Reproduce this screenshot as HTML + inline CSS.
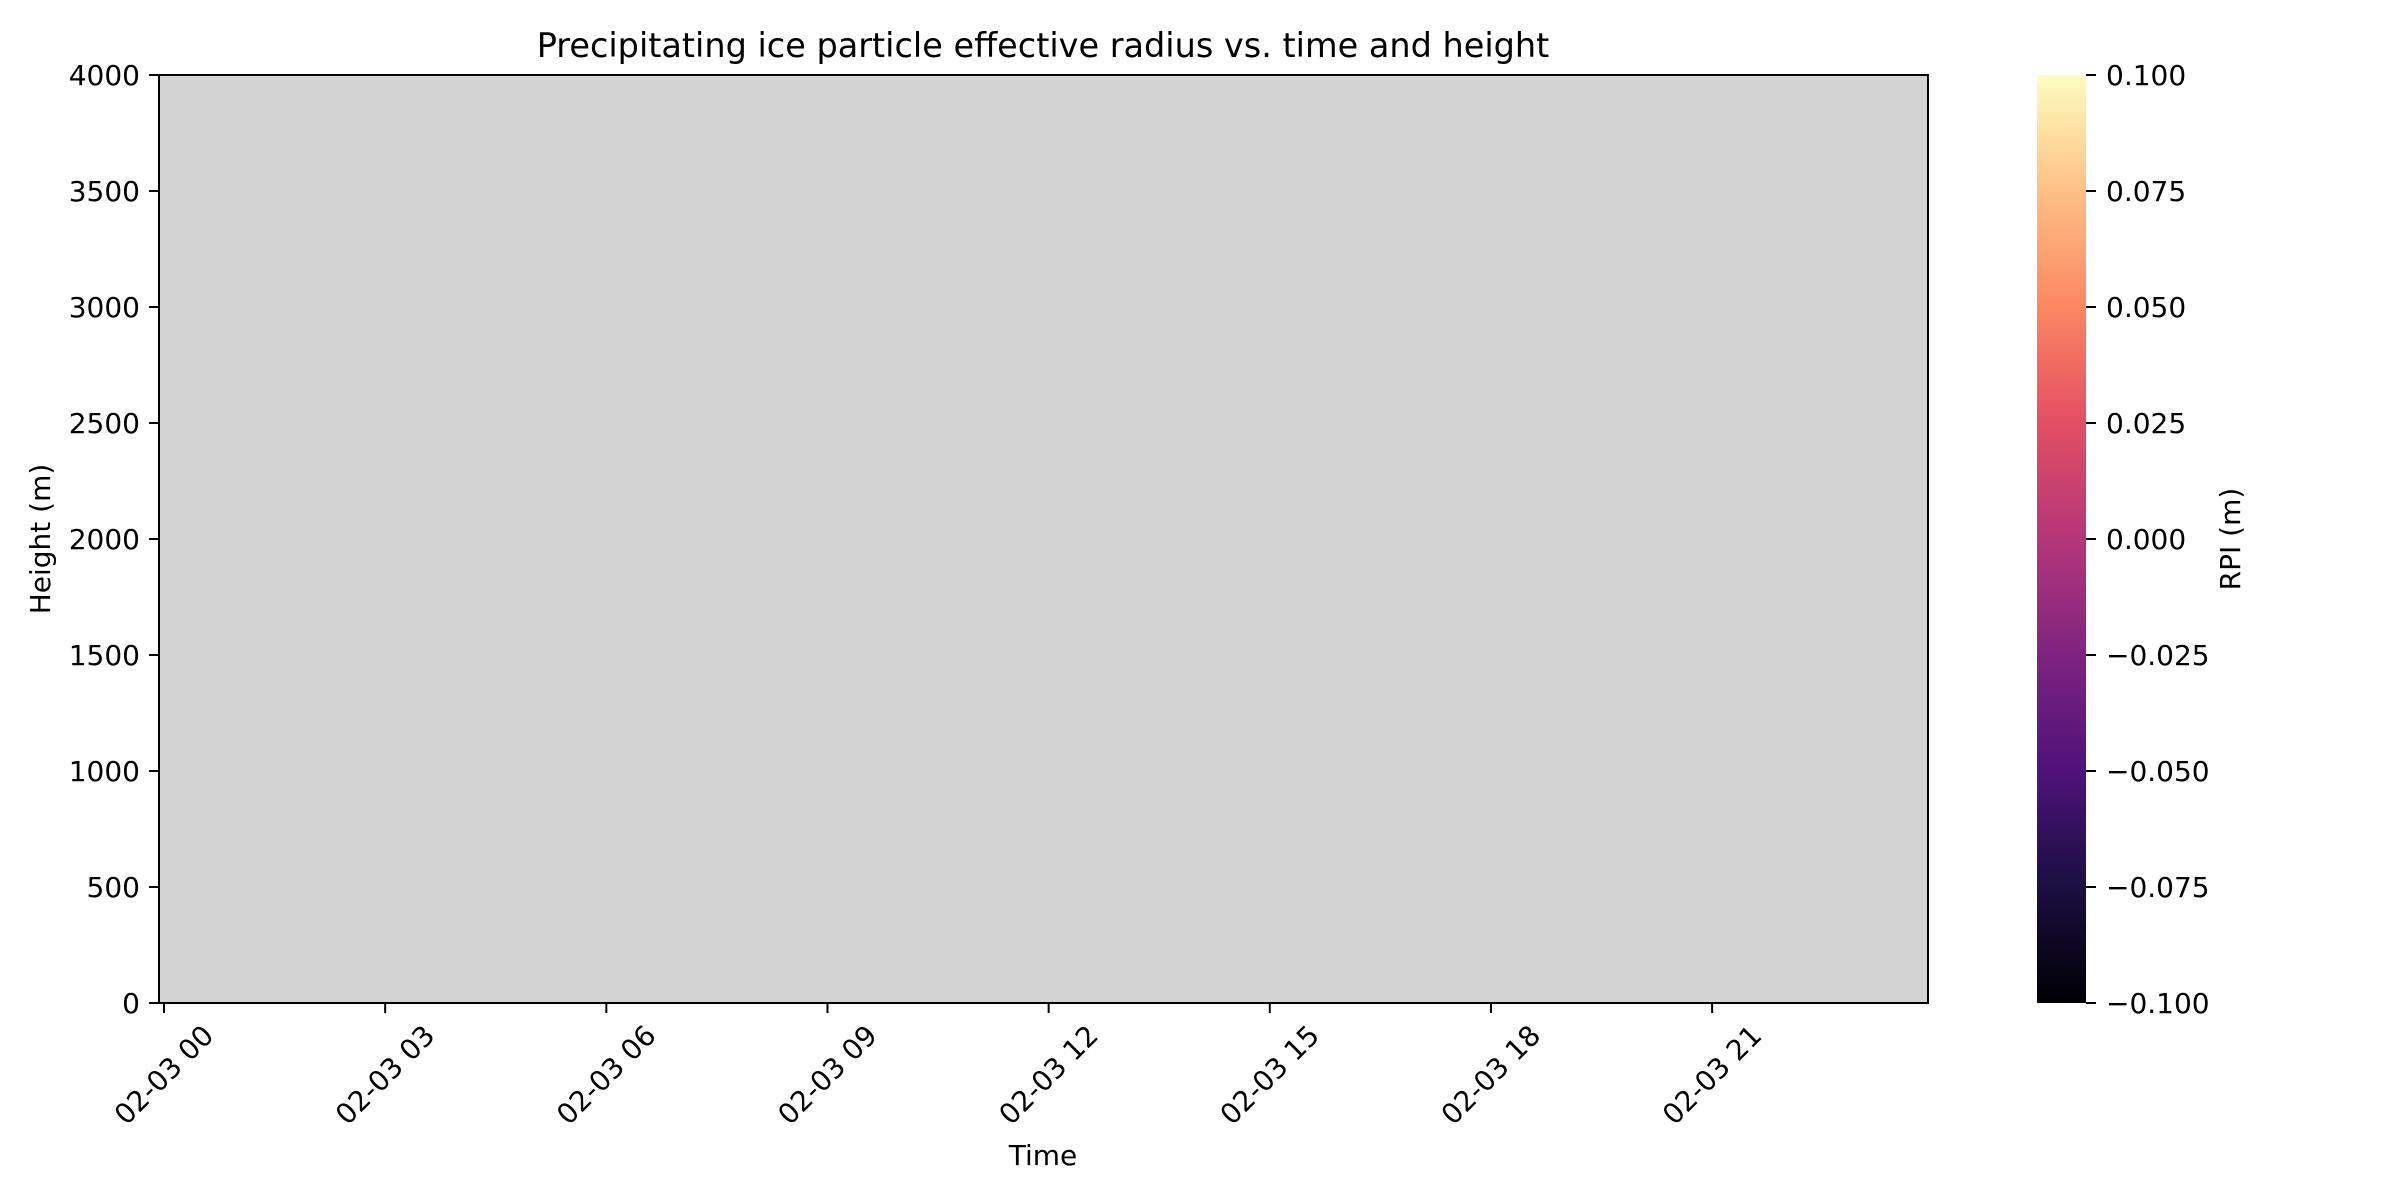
<!DOCTYPE html>
<html><head><meta charset="utf-8"><style>body{margin:0;background:#fff}svg{display:block}text{font-family:"DejaVu Sans","Liberation Sans",sans-serif;fill:#000}</style></head>
<body>
<svg id="c" width="2400" height="1200" viewBox="0 0 2400 1200">
<defs><linearGradient id="magma" x1="0" y1="1" x2="0" y2="0">
<stop offset="0" stop-color="#000004"/><stop offset="0.13" stop-color="#1c1044"/><stop offset="0.25" stop-color="#4f127b"/><stop offset="0.38" stop-color="#812581"/><stop offset="0.5" stop-color="#b5367a"/><stop offset="0.63" stop-color="#e55064"/><stop offset="0.75" stop-color="#fb8761"/><stop offset="0.88" stop-color="#fec287"/><stop offset="1" stop-color="#fcfdbf"/></linearGradient></defs>
<text x="1043" y="57" font-size="33.5" text-anchor="middle">Precipitating ice particle effective radius vs. time and height</text>
<rect x="159" y="75" width="1769" height="928" fill="#d3d3d3"/>
<g id="ax"></g>
<rect x="159" y="75" width="1769" height="928" fill="none" stroke="#000" stroke-width="2"/>
<text x="1043" y="1165" font-size="28" text-anchor="middle">Time</text>
<text transform="translate(50,539) rotate(-90)" font-size="28" text-anchor="middle">Height (m)</text>
<rect x="2037" y="75" width="49" height="928" fill="url(#magma)"/>
<g id="cb"></g>
<text transform="translate(2240,539) rotate(-90)" font-size="28" text-anchor="middle">RPI (m)</text>
</svg>
<script>
const xTickHours=[0,3,6,9,12,15,18,21];
const xTickLabels=["02-03 00","02-03 03","02-03 06","02-03 09","02-03 12","02-03 15","02-03 18","02-03 21"];
const yTicks=[0,500,1000,1500,2000,2500,3000,3500,4000];
const cbTicks=[-0.1,-0.075,-0.05,-0.025,0,0.025,0.05,0.075,0.1];
const NS="http://www.w3.org/2000/svg";
const xs=h=>164+h*73.72;
const ys=v=>1003-v*(928/4000);
const cs=v=>1003-(v+0.1)/0.2*928;
function mk(t,a,p){const e=document.createElementNS(NS,t);for(const k in a)e.setAttribute(k,a[k]);p.appendChild(e);return e;}
const ax=document.getElementById('ax'),cb=document.getElementById('cb');
xTickHours.forEach((h,i)=>{const x=xs(h);
const l=mk('line',{x1:x,x2:x,y1:1003,y2:1013,stroke:'#000','stroke-width':2},ax);


const t=mk('text',{transform:`translate(${x},1075) rotate(-45)`,'font-size':28,'text-anchor':'middle','dominant-baseline':'central'},ax);
t.textContent=xTickLabels[i];

});
yTicks.forEach(v=>{const y=ys(v);
const l=mk('line',{x1:149,x2:159,y1:y,y2:y,stroke:'#000','stroke-width':2},ax);


const t=mk('text',{x:140,y:y+10,'font-size':28,'text-anchor':'end'},ax);
t.textContent=v;

});
cbTicks.forEach(v=>{const y=cs(v);
const l=mk('line',{x1:2086,x2:2096,y1:y,y2:y,stroke:'#000','stroke-width':2},cb);


const t=mk('text',{x:2106,y:y+10,'font-size':28},cb);
t.textContent=(v<0?'\u2212':'')+Math.abs(v).toFixed(3);

});
</script>
</body></html>
